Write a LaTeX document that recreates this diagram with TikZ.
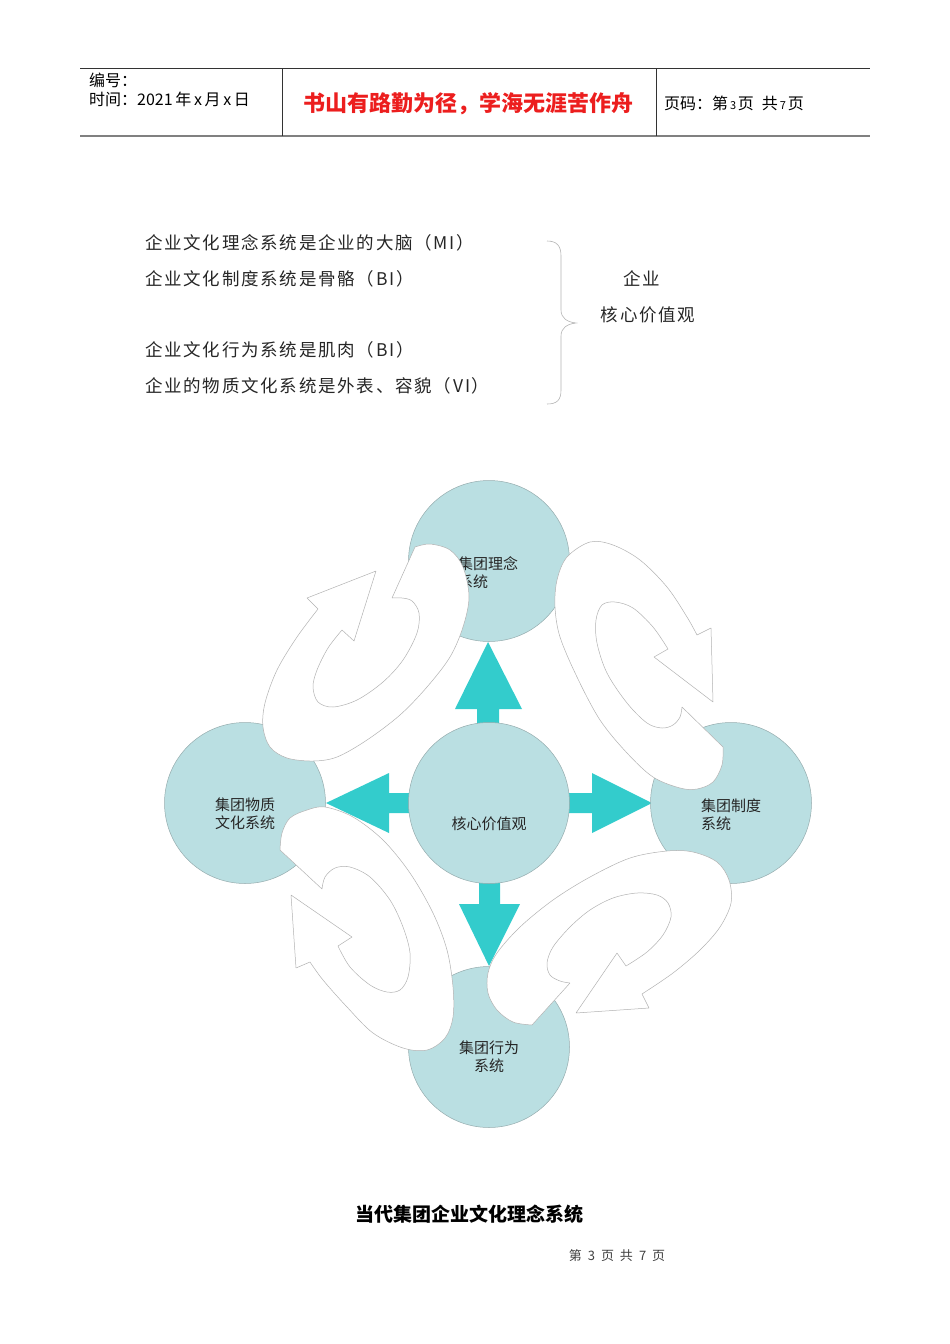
\documentclass[tikz,border=0pt]{standalone}
\usepackage{fontspec}
\setmainfont{Noto Sans CJK SC}
\newfontfamily\bodyfont[LetterSpace=10]{Noto Sans CJK SC}
\definecolor{circfill}{RGB}{186,223,226}
\definecolor{circline}{RGB}{150,172,174}
\definecolor{cyanarrow}{RGB}{51,204,204}
\definecolor{bandline}{RGB}{178,178,178}
\definecolor{redtext}{RGB}{236,30,30}
\begin{document}
\begin{tikzpicture}[x=1pt,y=-1pt,
  circ/.style={circle, fill=circfill, draw=circline, line width=0.5pt, minimum size=161pt, inner sep=0pt},
  lbl/.style={font=\fontsize{15}{18}\selectfont, text=black!85, inner sep=0pt},
  body/.style={anchor=west, font=\bodyfont\fontsize{17.5}{20}\selectfont, text=black!85, inner sep=0pt},
  head/.style={anchor=west, font=\fontsize{16}{18}\selectfont, text=black, inner sep=0pt},
  bigarrow/.style={fill=cyanarrow, draw=none},
  band/.style={fill=white, draw=bandline, line width=0.5pt, line join=round},
  brace/.style={draw=black!30, line width=0.6pt}]
\useasboundingbox (0,0) rectangle (950,1344);

% header
\draw[line width=1pt, black!80] (80,68) -- (870,68);
\draw[line width=1.8pt, black!50] (80,136) -- (870,136);
\draw[line width=0.9pt, black!80] (282,68) -- (282,136);
\draw[line width=0.9pt, black!80] (656,68) -- (656,136);
\node[head] (bianhao) at (89,80) {编号：};
\node[head] (shijian) at (89,99) {时间：2021\,年\,x\,月\,x\,日};
\node[font=\bfseries\fontsize{22}{24}\selectfont, text=redtext, inner sep=0pt] (motto) at (468,104) {书山有路勤为径，学海无涯苦作舟};
\node[head] (yema) at (664,103) {页码：第{\fontsize{11}{11}\selectfont\,3\,}页\hspace{8pt}共{\fontsize{11}{11}\selectfont\,7\,}页};

% body text
\node[body] (l1) at (145,243) {企业文化理念系统是企业的大脑（MI）};
\node[body] (l2) at (145,279) {企业文化制度系统是骨骼（BI）};
\node[body] (l3) at (145,350) {企业文化行为系统是肌肉（BI）};
\node[body] (l4) at (145,386) {企业的物质文化系统是外表、容貌（VI）};
\draw[brace] (547,241) .. controls (557,241) and (561,246) .. (561,256) -- (561,310)
  .. controls (561,318) and (567,322) .. (576,323)
  .. controls (567,324) and (561,328) .. (561,336) -- (561,390)
  .. controls (561,400) and (557,404) .. (547,404);
\node[body, anchor=center] (qiye) at (642,279) {企业};
\node[body, anchor=center] (hexin) at (648,315) {核心价值观};

% cyan arrows
\fill[bigarrow] (477,730) -- (477,709) -- (455,709) -- (488,642) -- (522,709) -- (499,709) -- (499,730) -- cycle;
\fill[bigarrow] (479,878) -- (479,904) -- (459,904) -- (489,966) -- (520,904) -- (500,904) -- (500,878) -- cycle;
\fill[bigarrow] (563,793) -- (592,793) -- (592,773) -- (652,803) -- (592,833) -- (592,813) -- (563,813) -- cycle;
\fill[bigarrow] (415,793) -- (389,793) -- (389,773) -- (326,803) -- (389,833) -- (389,813) -- (415,813) -- cycle;

% circles
\node[circ] (top) at (489,561) {};
\node[circ] (center) at (489,803) {};
\node[circ] (left) at (245,803) {};
\node[circ] (right) at (731,803) {};
\node[circ] (bottom) at (489,1047) {};
\node[lbl, align=left] (toplbl) at (488,573) {集团理念\\系统};
\node[lbl] (centerlbl) at (489,824) {核心价值观};
\node[lbl, align=center] (leftlbl) at (245,814) {集团物质\\文化系统};
\node[lbl, align=left] (rightlbl) at (731,815) {集团制度\\系统};
\node[lbl, align=center] (bottomlbl) at (489,1057) {集团行为\\系统};

% circular white arrows
\draw[band] plot[smooth, tension=0.55] coordinates {(415,547) (430,544) (450,550) (463,567) (469,597) (463,627) (450,657) (427,687) (400,715) (367,740) (337,757) (313,761) (287,758) (270,747) (263,727) (265,703) (277,670) (297,637) (318,609)}
  -- (307,598) -- (376,571) -- (354,641)
  -- plot[smooth, tension=0.55] coordinates {(342,630) (328,648) (317,670) (313,687) (318,702) (333,707) (357,700) (383,682) (403,660) (417,633) (419,613) (412,601) (402,598) (392,598)} -- cycle;

\draw[band] plot[smooth, tension=0.55] coordinates {(723,747) (722,765) (713,782) (697,789) (680,788) (653,777) (627,753) (600,720) (577,677) (560,637) (555,607) (557,580) (567,557) (590,542) (613,545) (640,560) (667,587) (687,617) (697,635)}
  -- (711,628) -- (713,702) -- (654,657)
  -- plot[smooth, tension=0.55] coordinates {(668,649) (653,627) (633,608) (615,602) (602,605) (596,620) (597,643) (607,673) (627,703) (647,723) (662,728) (673,725) (680,717) (682,707)} -- cycle;

\draw[band] plot[smooth, tension=0.55] coordinates {(280,850) (282,833) (290,818) (307,810) (325,807) (353,817) (383,840) (410,873) (433,913) (447,950) (453,987) (453,1017) (445,1038) (427,1050) (403,1048) (373,1033) (347,1007) (323,980) (310,962)}
  -- (296,968) -- (291,895) -- (352,937)
  -- plot[smooth, tension=0.55] coordinates {(338,946) (350,967) (370,985) (387,992) (400,990) (408,977) (410,953) (403,927) (390,900) (370,877) (350,867) (335,868) (325,877) (322,889)} -- cycle;

\draw[band] plot[smooth, tension=0.55] coordinates {(532,1025) (513,1022) (497,1010) (488,993) (488,973) (497,953) (520,927) (553,900) (590,877) (630,858) (667,851) (693,852) (717,862) (729,880) (731,903) (720,927) (700,950) (673,973) (642,994)}
  -- (649,1008) -- (576,1013) -- (617,953)
  -- plot[smooth, tension=0.55] coordinates {(626,966) (647,952) (663,935) (671,917) (668,903) (657,895) (637,893) (613,898) (590,910) (570,927) (553,947) (547,963) (550,975) (560,981) (570,983)} -- cycle;

% caption and footer
\node[font=\bfseries\fontsize{19}{21}\selectfont, text=black, inner sep=0pt] (caption) at (469,1214) {当代集团企业文化理念系统};
\node[font=\fontsize{13}{15}\selectfont, text=black!75, inner sep=0pt] (footer) at (617,1256) {第\hspace{6pt}3\hspace{6pt}页\hspace{6pt}共\hspace{6pt}7\hspace{6pt}页};
\end{tikzpicture}
\end{document}
